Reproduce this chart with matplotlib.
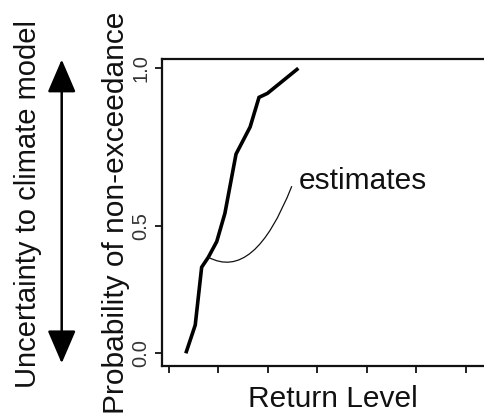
import matplotlib
matplotlib.use("Agg")
import matplotlib.pyplot as plt

plt.rcParams['font.family'] = ['Liberation Sans', 'DejaVu Sans']

# Data
return_level = [0.34, 0.53, 0.66, 0.795, 0.965, 1.13, 1.355, 1.64, 1.82, 1.99, 2.615]
prob_nonexc = [0.0, 0.099, 0.302, 0.337, 0.392, 0.491, 0.699, 0.794, 0.898, 0.912, 1.0]
x_ticks = [0, 1, 2, 3, 4, 5, 6]
y_tick_pos = [0.0, 0.448, 1.0]
y_tick_labels = ['0.0', '0.5', '1.0']
annot_text = 'estimates'
annot_idx = 3
annot_text_pos = (2.615, 0.5765)
annot_end = (2.48, 0.585)

W, H = 484, 413
fig = plt.figure(figsize=(W / 100, H / 100), dpi=100)
ax = fig.add_axes([161.7 / W, (H - 365.7) / H, (505 - 161.7) / W, (365.7 - 59) / H])

ax.plot(return_level, prob_nonexc, color='black', lw=2.6, solid_capstyle='butt',
        solid_joinstyle='miter')

ax.set_xlim(-0.148, (505 - 169) / 49.45)
ax.set_ylim(-0.0435, 1.0326)
ax.set_xticks(x_ticks)
ax.set_xticklabels([])
ax.set_yticks(y_tick_pos)
ax.set_yticklabels(y_tick_labels)

for s in ax.spines.values():
    s.set_linewidth(1.6)
    s.set_color('#111111')
ax.tick_params(axis='both', length=5, width=1.3, color='#111111')
ax.tick_params(axis='y', labelrotation=90, labelsize=14.5, pad=3)
for lab in ax.get_yticklabels():
    lab.set_va('center')
    lab.set_color('#333333')

ax.set_xlabel('Return Level', fontsize=21.5, labelpad=5.5, color='#111111')
ax.set_ylabel('Probability of non-exceedance', fontsize=21.5, labelpad=1.5, color='#111111')

ax.text(annot_text_pos[0], annot_text_pos[1], annot_text, fontsize=21.5,
        ha='left', va='baseline', color='#111111')
ax.annotate('', xy=(return_level[annot_idx], prob_nonexc[annot_idx]), xytext=annot_end,
            arrowprops=dict(arrowstyle='-', connectionstyle='angle3,angleA=68.5,angleB=-28',
                            shrinkA=0, shrinkB=0, patchA=None, lw=0.9, color='#111111'))

# Double-headed arrow with side label
fig.text(28 / W, (H - 204.5) / H, 'Uncertainty to climate model', rotation=90,
         fontsize=21, ha='center', va='center', color='#111111')
fig.add_artist(matplotlib.patches.FancyArrowPatch(
    (61.7, H - 59.5), (61.7, H - 363.3), transform=None,
    arrowstyle='<|-|>,head_length=20.5,head_width=8.8', mutation_scale=1,
    lw=1.8, color='black', shrinkA=0, shrinkB=0))

fig.savefig('out.png', dpi=100)
